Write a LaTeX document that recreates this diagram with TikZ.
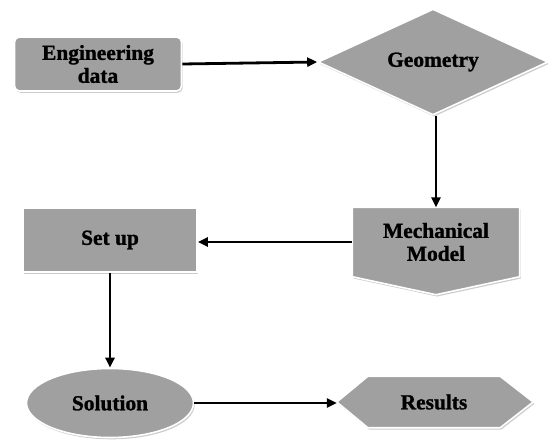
\documentclass[tikz,border=0pt]{standalone}
\usepackage{fontspec}
\setmainfont{Liberation Serif}[BoldFeatures={FakeBold=1.2}]
\usetikzlibrary{arrows.meta,positioning,calc,shapes.geometric,shadows,backgrounds}
\definecolor{FcGray}{RGB}{160,160,160}
\definecolor{FcShade}{RGB}{110,110,110}
\tikzset{
  fc/shape/.style={
    fill=FcGray,
    draw=white,
    line width=1.6bp,
    drop shadow={opacity=0.35, shadow xshift=1.2bp, shadow yshift=-1.8bp, fill=FcShade}
  },
  fc/text/.style={
    align=center,
    text=black,
    inner sep=0pt,
    font=\fontsize{21.5}{23}\selectfont\bfseries
  },
  fc/box/.style={fc/shape, fc/text, rectangle},
  fc/round/.style={fc/box, rounded corners=5bp},
  fc/decision/.style={fc/shape, fc/text, diamond, aspect=2.2},
  fc/terminal/.style={fc/shape, fc/text, ellipse},
  fc/label/.style={fc/text, draw=none, fill=none},
  fc/arrow/.style={-{Triangle[length=10bp,width=9bp]}, line width=2.8bp, draw=black}
}

\begin{document}
\begin{tikzpicture}[x=1bp,y=-1bp]
  \useasboundingbox (0,0) rectangle (548,441);
  \node[fc/round,minimum width=167bp,minimum height=54bp] (ed) at (98,64) {Engineering\\data};
  \node[fc/decision,minimum width=230bp,minimum height=106bp] (geo) at (433,62) {Geometry};
  \node[fc/label,minimum width=167bp,minimum height=69bp] (mm) at (436,242) {Mechanical\\Model};
  \node[fc/box,minimum width=174bp,minimum height=64bp] (su) at (110,240) {Set up};
  \node[fc/terminal,minimum width=167bp,minimum height=69bp] (sol) at (110,403) {Solution};
  \node[fc/label,minimum width=132bp,minimum height=51bp] (res) at (434,402) {Results};
  \coordinate (mmtip) at ($(mm.south)+(0,18)$);
  \coordinate (resin) at ($(res.west)+(-31,0)$);
  \coordinate (resout) at ($(res.east)+(33,0)$);
  % outlined shapes behind the labels
  \begin{scope}[on background layer]
    \path[fc/shape] (mm.north west) -- (mm.north east) -- (mm.south east)
      -- (mmtip) -- (mm.south west) -- cycle;
    \path[fc/shape] (resin) -- (res.north west) -- (res.north east)
      -- (resout) -- (res.south east) -- (res.south west) -- cycle;
  \end{scope}
  \draw[fc/arrow] (ed.east) -- (geo.west);
  \draw[fc/arrow] (mm.north |- geo.south) -- (mm.north);
  \draw[fc/arrow] (mm.west) -- (mm.west -| su.east);
  \draw[fc/arrow] (su.south) -- (sol.north);
  \draw[fc/arrow] (sol.east) -- (sol.east -| resin);
\end{tikzpicture}
\end{document}
